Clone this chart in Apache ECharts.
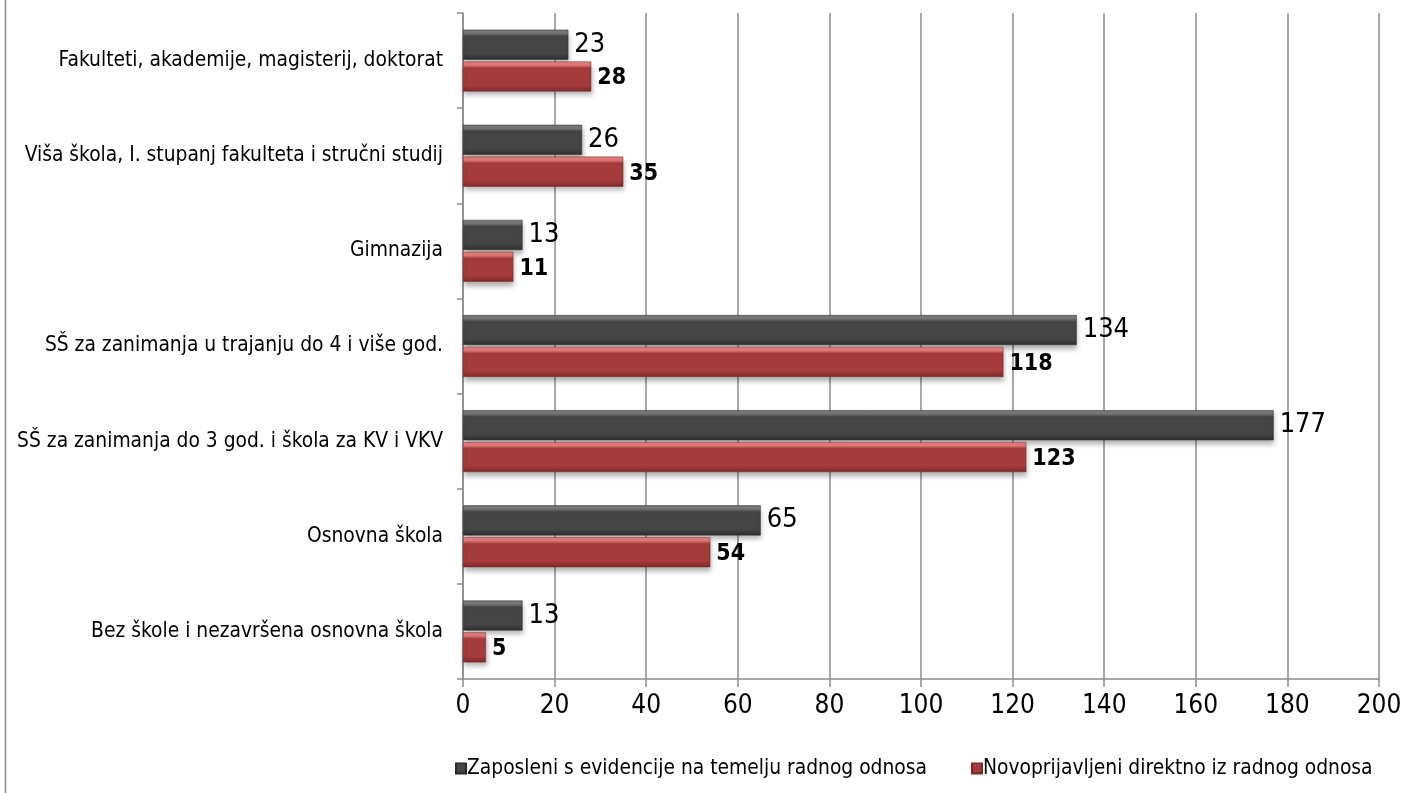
<!DOCTYPE html>
<html><head><meta charset="utf-8">
<script src="https://cdn.jsdelivr.net/npm/echarts@6/dist/echarts.min.js"></script>
<style>html,body{margin:0;padding:0;background:#fff}#c{width:1405px;height:793px}</style>
</head><body><div id="c"></div>
<script>
const categories = [
  'Fakulteti, akademije, magisterij, doktorat',
  'Viša škola, I. stupanj fakulteta i stručni studij',
  'Gimnazija',
  'SŠ za zanimanja u trajanju do 4 i više god.',
  'SŠ za zanimanja do 3 god. i škola za KV i VKV',
  'Osnovna škola',
  'Bez škole i nezavršena osnovna škola'
];
const seriesNames = ['Zaposleni s evidencije na temelju radnog odnosa', 'Novoprijavljeni direktno iz radnog odnosa'];
const zaposleni = [23, 26, 13, 134, 177, 65, 13];
const novoprijavljeni = [28, 35, 11, 118, 123, 54, 5];
const xTicks = [0, 20, 40, 60, 80, 100, 120, 140, 160, 180, 200];

const FONT = '"DejaVu Sans Condensed", "DejaVu Sans"';
function grad(light, mid, dark) {
  return new echarts.graphic.LinearGradient(0, 0, 0, 1, [
    {offset: 0, color: light}, {offset: 0.12, color: light},
    {offset: 0.22, color: mid}, {offset: 0.8, color: mid}, {offset: 1, color: dark}
  ]);
}
const chart = echarts.init(document.getElementById('c'));
chart.setOption({
  animation: false,
  textStyle: {fontFamily: FONT},
  grid: {left: 463, right: 26, top: 13, bottom: 114, containLabel: false},
  legend: {
    bottom: 9, left: 450, itemWidth: 10, itemHeight: 10, itemGap: 44,
    icon: 'rect',
    textStyle: {fontFamily: FONT, fontSize: 20.8, color: '#000', padding: [0, 0, 0, -4]},
    data: seriesNames
  },
  xAxis: {
    type: 'value', min: 0, max: 200, interval: 20,
    axisLine: {show: true, lineStyle: {color: '#8c8c8c', width: 1.5}},
    axisTick: {show: true, length: 8, lineStyle: {color: '#8c8c8c', width: 1.5}},
    axisLabel: {fontFamily: FONT, fontSize: 26, color: '#000', margin: 14,
      formatter: v => xTicks.includes(v) ? String(v) : ''},
    splitLine: {show: true, lineStyle: {color: '#8c8c8c', width: 1.5}}
  },
  yAxis: {
    type: 'category', inverse: true, data: categories,
    axisLine: {show: true, lineStyle: {color: '#8c8c8c', width: 1.5}},
    axisTick: {show: true, length: 6, lineStyle: {color: '#8c8c8c', width: 1.5}},
    axisLabel: {fontFamily: FONT, fontSize: 20.8, color: '#000', margin: 20}
  },
  series: [
    {
      name: seriesNames[0], type: 'bar', data: zaposleni,
      barCategoryGap: '35%', barGap: '6%',
      itemStyle: {color: grad('#777777', '#454545', '#2e2e2e'),
        borderColor: '#2a2a2a', borderWidth: 0.5,
        shadowColor: 'rgba(0,0,0,0.3)', shadowBlur: 5, shadowOffsetY: 4, shadowOffsetX: 1},
      label: {show: true, position: 'right', distance: 6, offset: [0, 0], fontFamily: FONT, fontSize: 27, color: '#000'}
    },
    {
      name: seriesNames[1], type: 'bar', data: novoprijavljeni,
      barCategoryGap: '35%', barGap: '6%',
      itemStyle: {color: grad('#e27a7a', '#a63b3b', '#7e2828'),
        borderColor: '#7a2626', borderWidth: 0.5,
        shadowColor: 'rgba(0,0,0,0.3)', shadowBlur: 5, shadowOffsetY: 4, shadowOffsetX: 1},
      label: {show: true, position: 'right', distance: 6, offset: [0, 2], fontFamily: FONT, fontSize: 23, fontWeight: 'bold', color: '#000'}
    }
  ],
  color: ['#454545', '#a63b3b'],
  graphic: [{type: 'line', shape: {x1: 5.5, y1: 0, x2: 5.5, y2: 793}, style: {stroke: '#8c8c8c', lineWidth: 1.5}}]
});
</script></body></html>
